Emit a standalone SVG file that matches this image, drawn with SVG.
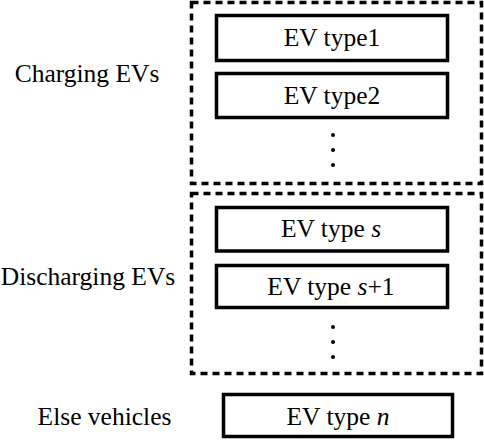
<svg xmlns="http://www.w3.org/2000/svg" width="484" height="441" viewBox="0 0 484 441">
<style>
.grp{fill:none;stroke:#000;stroke-width:3.5;stroke-dasharray:7 5}
.box{fill:#fff;stroke:#000;stroke-width:3.5}
text{font-family:"Liberation Serif","Times New Roman",serif;font-size:25.5px;fill:#000;text-anchor:middle}
.it{font-style:italic}
.dot{fill:#000}
</style>
<rect fill="#fff" width="484" height="441"/>
<g id="group-charging">
<rect class="grp" x="191.5" y="2.5" width="290" height="181"/>
<text x="87" y="82">Charging EVs</text>
</g>
<g id="group-discharging">
<rect class="grp" x="191.5" y="193.5" width="290" height="180"/>
<text x="88" y="285">Discharging EVs</text>
</g>
<g id="label-else">
<text x="104.5" y="425">Else vehicles</text>
</g>
<g id="ev-type1">
<rect class="box" x="216.5" y="15.5" width="231" height="45"/>
<text x="332" y="46">EV type1</text>
</g>
<g id="ev-type2">
<rect class="box" x="216.5" y="73.5" width="231" height="44"/>
<text x="332" y="104">EV type2</text>
</g>
<g id="dots1">
<circle class="dot" cx="333" cy="135" r="2"/>
<circle class="dot" cx="333" cy="150" r="2"/>
<circle class="dot" cx="333" cy="165" r="2"/>
</g>
<g id="ev-type-s">
<rect class="box" x="216.5" y="207.5" width="231" height="43.5"/>
<text x="331" y="237">EV type <tspan class="it">s</tspan></text>
</g>
<g id="ev-type-s1">
<rect class="box" x="216.5" y="265.5" width="231" height="42"/>
<text x="331" y="295">EV type <tspan class="it">s</tspan>+1</text>
</g>
<g id="dots2">
<circle class="dot" cx="333" cy="327" r="2"/>
<circle class="dot" cx="333" cy="342" r="2"/>
<circle class="dot" cx="333" cy="357" r="2"/>
</g>
<g id="ev-type-n">
<rect class="box" x="223.5" y="394.5" width="229" height="42"/>
<text x="338" y="425">EV type <tspan class="it">n</tspan></text>
</g>
<g id="connectors"/>
</svg>
